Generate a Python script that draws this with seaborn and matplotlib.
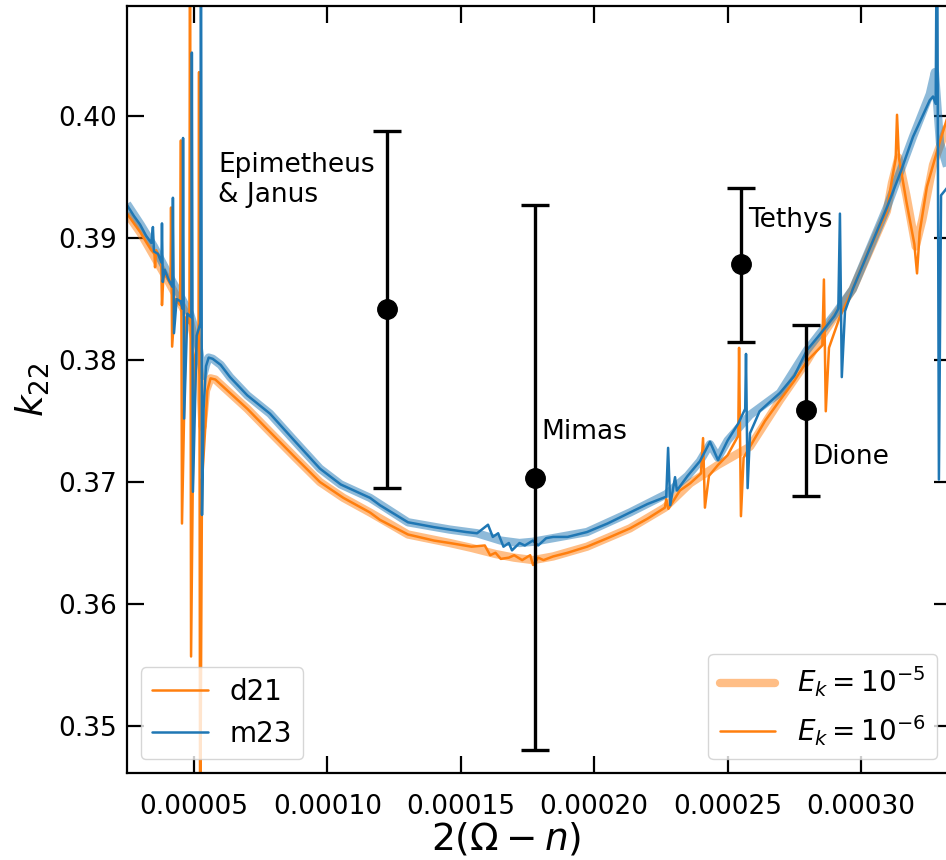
import numpy as np
import pandas as pd
import matplotlib
matplotlib.use('Agg')
import matplotlib.pyplot as plt
import seaborn as sns
from matplotlib.lines import Line2D
from matplotlib.ticker import FormatStrFormatter, MultipleLocator

# ── data (x in units of 1e-5) ───────────────────────────────
m23_fine_x = [2.49, 2.75, 2.98, 3.20, 3.40, 3.46, 3.50, 3.65, 3.78, 3.80, 3.83, 3.90,
              4.05, 4.19, 4.21, 4.25, 4.35, 4.50, 4.57, 4.59, 4.63, 4.75, 4.90, 4.92,
              4.96, 5.10, 5.24, 5.26, 5.30, 5.36, 5.45, 5.55, 5.70, 6.00, 6.35, 7.00,
              7.85, 8.80, 9.72, 10.5, 11.6, 11.97, 13.02, 14.0, 14.59, 15.2, 15.61,
              16.02, 16.2, 16.4, 16.6, 16.8, 16.92, 17.2, 17.4, 17.7, 17.9, 18.2, 18.46,
              19.0, 19.73, 20.5, 21.34, 22.0, 22.7, 22.77, 22.85, 23.03, 23.1, 23.5,
              23.96, 24.34, 24.64, 25.0, 25.4, 25.66, 25.69, 25.75, 25.84, 26.2, 26.96,
              27.5, 27.97, 28.5, 29.0, 29.15, 29.21, 29.28, 29.4, 29.69, 30.3, 30.97,
              31.5, 31.95, 32.58, 32.70, 32.80, 32.85, 32.92, 33.0, 33.37]
m23_fine_y = [0.3927, 0.3918, 0.3911, 0.3902, 0.3896, 0.3909, 0.3889, 0.3887, 0.3880, 0.3912,
              0.3864, 0.3874, 0.3866, 0.3860, 0.3933, 0.3822, 0.3850, 0.3848, 0.3842, 0.3982,
              0.3752, 0.3838, 0.3835, 0.4052, 0.3692, 0.3820, 0.3830, 0.4200, 0.3673, 0.3760,
              0.3795, 0.3802, 0.3801, 0.3796, 0.3786, 0.3771, 0.3756, 0.3733, 0.3711, 0.3698,
              0.3687, 0.3681, 0.3667, 0.3663, 0.3661, 0.3659, 0.3658, 0.3665, 0.3655, 0.3658,
              0.3647, 0.3650, 0.3644, 0.3650, 0.3648, 0.3652, 0.3648, 0.3654, 0.3655, 0.3655,
              0.3659, 0.3666, 0.3675, 0.3682, 0.3688, 0.3728, 0.3681, 0.3704, 0.3693, 0.3705,
              0.3717, 0.3733, 0.3718, 0.3734, 0.3748, 0.3760, 0.3805, 0.3695, 0.3740, 0.3758,
              0.3773, 0.3787, 0.3808, 0.3822, 0.3836, 0.3842, 0.3920, 0.3786, 0.3840, 0.3858,
              0.3890, 0.3925, 0.3955, 0.3983, 0.4013, 0.4016, 0.4010, 0.4200, 0.3702, 0.3935,
              0.3945]

m23_coarse_x = [2.49, 3.0, 3.5, 4.0, 4.5, 4.85, 5.04, 5.19, 5.34, 5.45, 5.55, 5.70, 6.00,
                6.35, 7.00, 7.85, 8.80, 9.72, 10.5, 11.6, 13.02, 14.59, 15.61, 16.5, 17.2,
                17.7, 18.46, 19.73, 21.34, 22.7, 23.5, 23.96, 24.34, 24.64, 25.0, 25.84,
                26.96, 27.97, 29.0, 29.69, 30.97, 31.95, 32.58, 32.77, 32.96, 33.37]
m23_coarse_y = [0.3928, 0.3911, 0.3893, 0.3872, 0.3852, 0.3838, 0.3825, 0.3808, 0.3787,
                0.3796, 0.3802, 0.3801, 0.3796, 0.3786, 0.3771, 0.3756, 0.3733, 0.3711,
                0.3698, 0.3687, 0.3667, 0.3661, 0.3658, 0.3652, 0.3650, 0.3651, 0.3654,
                0.3659, 0.3675, 0.3690, 0.3705, 0.3717, 0.3731, 0.3720, 0.3734, 0.3755,
                0.3773, 0.3808, 0.3837, 0.3858, 0.3925, 0.3983, 0.4018, 0.4036, 0.3978,
                0.3948]

d21_fine_x = [2.49, 2.75, 2.98, 3.20, 3.40, 3.52, 3.54, 3.58, 3.70, 3.77, 3.80, 3.86,
              4.05, 4.12, 4.14, 4.18, 4.30, 4.48, 4.51, 4.55, 4.70, 4.83, 4.85, 4.89,
              5.00, 5.17, 5.19, 5.23, 5.30, 5.41, 5.50, 5.62, 5.80, 6.35, 7.00, 7.85,
              8.80, 9.72, 10.6, 11.6, 11.97, 13.02, 14.0, 14.59, 15.4, 15.9, 16.1, 16.3,
              16.5, 16.8, 17.0, 17.3, 17.6, 17.71, 17.9, 18.1, 18.46, 19.0, 19.73, 20.5,
              21.34, 22.0, 22.65, 22.7, 22.78, 23.21, 23.6, 24.0, 24.08, 24.15, 24.3,
              24.64, 25.0, 25.4, 25.43, 25.50, 25.6, 25.84, 26.4, 26.96, 27.5, 27.97,
              28.55, 28.61, 28.68, 28.8, 29.2, 29.69, 30.3, 30.97, 31.16, 31.30, 31.35,
              31.42, 31.7, 32.0, 32.10, 32.20, 32.47, 32.9, 33.37]
d21_fine_y = [0.3920, 0.3912, 0.3905, 0.3897, 0.3890, 0.3887, 0.3876, 0.3890, 0.3885, 0.3882,
              0.3845, 0.3872, 0.3865, 0.3862, 0.3925, 0.3811, 0.3850, 0.3845, 0.3980, 0.3666,
              0.3835, 0.3830, 0.4200, 0.3557, 0.3800, 0.3815, 0.4036, 0.3400, 0.3700, 0.3740,
              0.3775, 0.3785, 0.3784, 0.3773, 0.3760, 0.3741, 0.3720, 0.3700, 0.3687, 0.3675,
              0.3669, 0.3657, 0.3652, 0.3650, 0.3647, 0.3648, 0.3640, 0.3642, 0.3637, 0.3638,
              0.3640, 0.3636, 0.3640, 0.3632, 0.3638, 0.3636, 0.3639, 0.3642, 0.3647, 0.3654,
              0.3662, 0.3670, 0.3679, 0.3686, 0.3678, 0.3693, 0.3699, 0.3707, 0.3736, 0.3679,
              0.3705, 0.3714, 0.3722, 0.3738, 0.3810, 0.3672, 0.3720, 0.3729, 0.3750, 0.3767,
              0.3783, 0.3799, 0.3812, 0.3866, 0.3758, 0.3810, 0.3835, 0.3858, 0.3890, 0.3922,
              0.3948, 0.3965, 0.4001, 0.3966, 0.3930, 0.3895, 0.3871, 0.3905, 0.3942, 0.3975,
              0.4008]

d21_coarse_x = [2.49, 3.0, 3.5, 4.0, 4.5, 4.85, 5.04, 5.22, 5.32, 5.45, 5.62, 5.80, 6.35,
                7.00, 7.85, 8.80, 9.72, 10.6, 11.6, 13.02, 14.59, 15.4, 16.3, 17.0, 17.71,
                18.46, 19.73, 21.34, 22.65, 23.6, 24.64, 25.84, 26.96, 27.97, 28.61, 29.69,
                30.97, 31.16, 31.40, 31.7, 32.05, 32.3, 32.7, 33.37]
d21_coarse_y = [0.3920, 0.3904, 0.3885, 0.3866, 0.3846, 0.3832, 0.3815, 0.3788, 0.3745,
                0.3775, 0.3785, 0.3784, 0.3773, 0.3760, 0.3741, 0.3720, 0.3700, 0.3687,
                0.3675, 0.3657, 0.3650, 0.3646, 0.3641, 0.3638, 0.3636, 0.3639, 0.3647,
                0.3662, 0.3679, 0.3699, 0.3714, 0.3729, 0.3767, 0.3799, 0.3822, 0.3858,
                0.3922, 0.3945, 0.3966, 0.3935, 0.3893, 0.3915, 0.3960, 0.4000]

moon_names = ['Epimetheus\n& Janus', 'Mimas', 'Tethys', 'Dione']
moon_x = [12.23, 17.78, 25.50, 27.94]
moon_k = [0.38418, 0.37033, 0.38787, 0.37590]
moon_hi = [0.39880, 0.39270, 0.39410, 0.38287]
moon_lo = [0.36951, 0.34803, 0.38148, 0.36885]
label_x = [5.90, 18.01, 25.76, 28.16]
label_y = [0.39475, 0.37410, 0.39147, 0.37205]

# ── style ───────────────────────────────────────────────────
sns.set_style('ticks')
plt.rcParams.update({
    'font.family': ['DejaVu Sans'],
    'mathtext.fontset': 'dejavusans',
    'text.color': 'black', 'axes.labelcolor': 'black',
    'xtick.color': 'black', 'ytick.color': 'black',
    'xtick.direction': 'in', 'ytick.direction': 'in',
    'xtick.top': True, 'ytick.right': True,
    'xtick.major.size': 12, 'ytick.major.size': 12,
    'xtick.major.width': 1.6, 'ytick.major.width': 1.6,
    'axes.linewidth': 1.6, 'axes.edgecolor': 'black',
})

orange = '#ff7f0e'
blue = '#1f77b4'

fig = plt.figure(figsize=(9.46, 8.6), dpi=100)
ax = fig.add_axes([0.13425, 0.10116, 0.8710, 0.8919])

sc = 1e-5
coarse = [(d21_coarse_x, d21_coarse_y, orange), (m23_coarse_x, m23_coarse_y, blue)]
fine = [(d21_fine_x, d21_fine_y, orange), (m23_fine_x, m23_fine_y, blue)]
for xs, ys, c in coarse:
    df = pd.DataFrame({'x': np.array(xs) * sc, 'y': ys})
    sns.lineplot(data=df, x='x', y='y', ax=ax, sort=False, estimator=None,
                 color=c, lw=6, alpha=0.5, solid_capstyle='butt')
for xs, ys, c in fine:
    df = pd.DataFrame({'x': np.array(xs) * sc, 'y': ys})
    sns.lineplot(data=df, x='x', y='y', ax=ax, sort=False, estimator=None,
                 color=c, lw=1.8)

mx = np.array(moon_x) * sc
mk = np.array(moon_k)
yerr = [mk - np.array(moon_lo), np.array(moon_hi) - mk]
ax.errorbar(mx, mk, yerr=yerr, fmt='o', color='black', ms=14, lw=2.4,
            capsize=10, capthick=2.4, zorder=5)
for name, lx, ly in zip(moon_names, label_x, label_y):
    ax.text(lx * sc, ly, name, fontsize=19, ha='left', va='center', zorder=6)

ax.set_xlim(2.489e-5, 3.3372e-4)
ax.set_ylim(0.34615, 0.40902)
ax.xaxis.set_major_locator(MultipleLocator(0.00005))
ax.xaxis.set_major_formatter(FormatStrFormatter('%.5f'))
ax.yaxis.set_major_locator(MultipleLocator(0.01))
ax.yaxis.set_major_formatter(FormatStrFormatter('%.2f'))
ax.tick_params(axis='x', labelsize=19, pad=15)
ax.tick_params(axis='y', labelsize=19, pad=7)
ax.set_xlabel(r'$2(\Omega - n)$', fontsize=27, labelpad=4)
ax.set_ylabel(r'$k_{22}$', fontsize=27, labelpad=5)
ax.xaxis.set_label_coords(0.46, -0.062)

h1 = [Line2D([], [], color=orange, lw=1.8), Line2D([], [], color=blue, lw=1.8)]
leg1 = ax.legend(h1, ['d21', 'm23'], loc='lower left', fontsize=20)
ax.add_artist(leg1)
h2 = [Line2D([], [], color=orange, lw=6, alpha=0.5), Line2D([], [], color=orange, lw=1.8)]
ax.legend(h2, [r'$E_k=10^{-5}$', r'$E_k=10^{-6}$'], loc='lower right', fontsize=20)

fig.savefig('out.png', dpi=100)
